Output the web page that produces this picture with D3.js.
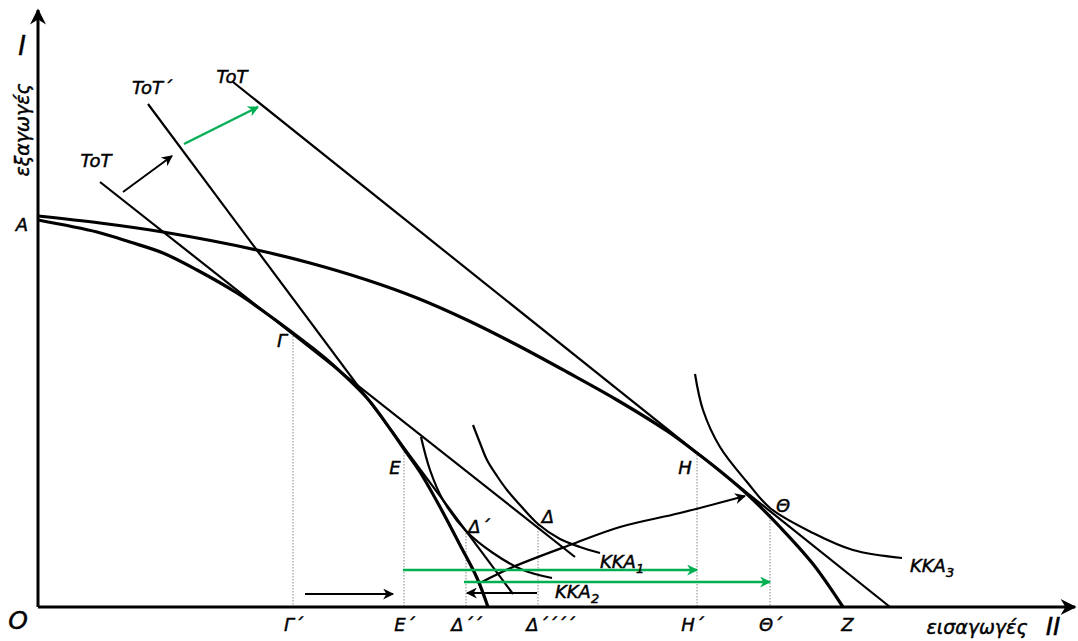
<!DOCTYPE html>
<html><head><meta charset="utf-8">
<script src="https://cdn.jsdelivr.net/npm/d3@7"></script>
<style>
body{margin:0;background:#fff;}
svg text{font-family:"DejaVu Sans",Verdana,sans-serif;font-style:italic;fill:#000;stroke:#000;stroke-width:0.45px;}
</style></head>
<body><svg id="c" width="1078" height="641"></svg>
<script>
// ---- data (x = quantity of good II / imports, y = quantity of good I / exports) ----
const ppfOuter = [[0,391],[62,384],[125,375],[219,357],[272,344],[329,327],[379,309],[429,287],[479,262],[529,235],[579,207],[629,176],[659,154],[682,136],[709,113],[742,80],[775,43],[805,0]];
const ppfInner = [[0,387],[59,375],[92,365],[125,354],[159,337],[199,314],[232,291],[255,274],[272,261],[295,242],[329,209],[355,174],[366,158],[382,135],[402,100],[422,62],[439,29],[450,0]];
const kka1 = [[435,182],[442,164],[449,147],[459,131],[469,117],[482,102],[500,83],[522,68],[542,60],[562,54]];
const kka2 = [[383,170],[392,137],[405,107],[428,76],[455,54],[485,37],[514,29]];
const kka3 = [[657,233],[665,197],[682,160],[709,125],[732,99],[775,74],[815,57],[864,49]];
const totLow = [[62,425],[537,50]];
const totPrime = [[110,503],[475,13]];
const totHigh = [[195,525],[852,0]];
const tradeArc = [[444,25],[475,40],[532,62],[582,80],[642,94],[707,111]];
const arrowsBlack = [[[85,415],[134,451]],[[499,14],[429,14]],[[267,13],[355,13]]];
const arrowsGreen = [[[146,463],[220,500]],[[365,37],[659,37]],[[426,25],[732,25]]];
const dropPoints = [[255,274],[366,158],[428,74],[500,82],[659,155],[732,96]];
const tickValues = [255,366,428,512,654,732,809];
const tickLabels = ["Γ΄","Ε΄","Δ΄΄","Δ΄΄΄΄","Η΄","Θ΄","Ζ"];

// ---- layout ----
const svg = d3.select("#c");
const x = d3.scaleLinear().domain([0,1040]).range([38,1078]);
const y = d3.scaleLinear().domain([0,600]).range([607,7]);
const GREEN = "#00b050";
const FONT = "DejaVu Sans, Verdana, sans-serif";

const defs = svg.append("defs");
function marker(id,color,w,h){
  defs.append("marker").attr("id",id).attr("viewBox","0 0 10 10").attr("refX",9).attr("refY",5)
    .attr("markerWidth",w).attr("markerHeight",h).attr("markerUnits","userSpaceOnUse").attr("orient","auto")
    .append("path").attr("d","M0,0 L10,5 L0,10 L3,5 z").attr("fill",color);
}
marker("ab","#000",14,11); marker("ag",GREEN,14,11); marker("ax","#000",18,16);

const line = d3.line().x(d=>x(d[0])).y(d=>y(d[1]));
const curve = d3.line().x(d=>x(d[0])).y(d=>y(d[1])).curve(d3.curveCatmullRom.alpha(0.5));

// dotted drop lines
svg.append("g").selectAll("line").data(dropPoints).join("line")
  .attr("x1",d=>x(d[0])).attr("x2",d=>x(d[0])).attr("y1",d=>y(d[1])).attr("y2",y(0))
  .attr("stroke","#888").attr("stroke-width",1).attr("stroke-dasharray","1.5,1.5");

// PPFs
[ppfOuter,ppfInner].forEach(d=>svg.append("path").attr("d",curve(d)).attr("fill","none").attr("stroke","#000").attr("stroke-width",3.2));
// Community indifference curves
[kka1,kka2,kka3].forEach(d=>svg.append("path").attr("d",curve(d)).attr("fill","none").attr("stroke","#000").attr("stroke-width",2.2));
// Terms of trade lines
[totLow,totPrime,totHigh].forEach(d=>svg.append("path").attr("d",line(d)).attr("fill","none").attr("stroke","#000").attr("stroke-width",2.2));
// trade arc
svg.append("path").attr("d",curve(tradeArc)).attr("fill","none").attr("stroke","#000").attr("stroke-width",2.2).attr("marker-end","url(#ab)");
arrowsBlack.forEach(d=>svg.append("path").attr("d",line(d)).attr("fill","none").attr("stroke","#000").attr("stroke-width",2).attr("marker-end","url(#ab)"));
arrowsGreen.forEach(d=>svg.append("path").attr("d",line(d)).attr("fill","none").attr("stroke",GREEN).attr("stroke-width",2.4).attr("marker-end","url(#ag)"));

// axes
svg.append("path").attr("d",line([[0,0],[0,597]])).attr("stroke","#000").attr("stroke-width",3).attr("marker-end","url(#ax)");
svg.append("path").attr("d",line([[0,0],[1037,0]])).attr("stroke","#000").attr("stroke-width",3).attr("marker-end","url(#ax)");
const xa = svg.append("g").attr("transform",`translate(0,${y(0)})`)
  .call(d3.axisBottom(x).tickValues(tickValues).tickFormat((d,i)=>tickLabels[i]).tickSize(0).tickPadding(11));
xa.select(".domain").remove();
xa.selectAll("text").style("font-size","18px").style("font-family",FONT).style("font-style","italic").attr("fill","#000");

// text labels
const labels = [
  {t:"Ι",x:22,y:55,s:26},
  {t:"Α",x:22,y:231,s:18},
  {t:"Ο",x:18,y:629,s:25},
  {t:"ToT",x:96,y:167,s:18},
  {t:"ToT΄",x:152,y:94,s:18},
  {t:"ToT",x:232,y:83,s:18},
  {t:"Γ",x:282,y:347,s:18},
  {t:"Ε",x:395,y:474,s:18},
  {t:"Δ΄",x:479,y:533,s:18},
  {t:"Δ",x:548,y:523,s:18},
  {t:"Η",x:685,y:474,s:18},
  {t:"Θ",x:783,y:512,s:18},
  {t:"εισαγωγές",x:977,y:634,s:19},
  {t:"ΙΙ",x:1053,y:635,s:25}
];
labels.forEach(l=>svg.append("text").attr("x",l.x).attr("y",l.y).attr("text-anchor","middle").style("font-size",l.s+"px").text(l.t));
svg.append("text").attr("transform","translate(29,130) rotate(-90)").attr("text-anchor","middle").style("font-size","19px").text("εξαγωγές");

const kkaLabels = [{n:"1",x:600,y:568},{n:"2",x:555,y:598},{n:"3",x:910,y:572}];
kkaLabels.forEach(l=>{
  const t = svg.append("text").attr("x",l.x).attr("y",l.y).style("font-size","18px");
  t.append("tspan").text("ΚΚΑ");
  t.append("tspan").attr("dy",5).style("font-size","13px").text(l.n);
});
</script></body></html>
